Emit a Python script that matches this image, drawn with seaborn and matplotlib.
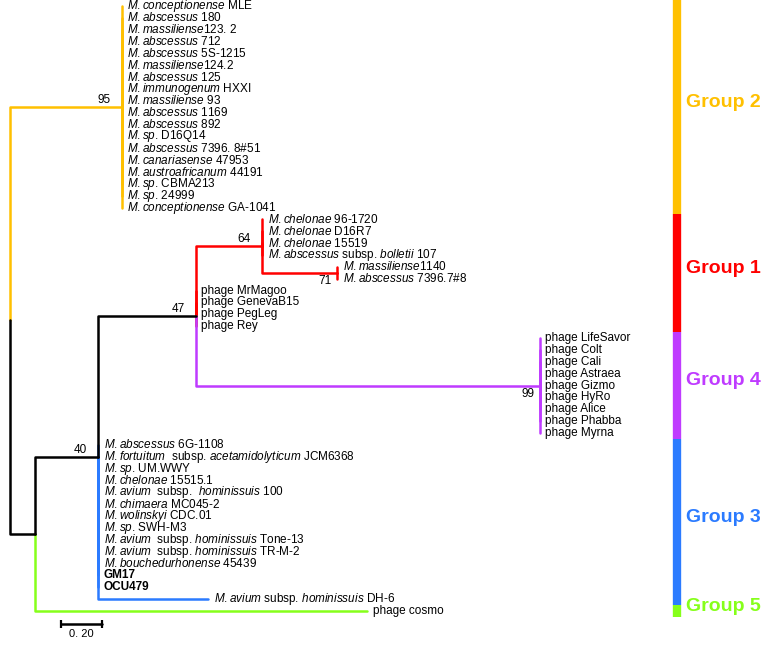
import numpy as np
import pandas as pd
import matplotlib
matplotlib.use("Agg")
import matplotlib.pyplot as plt
import seaborn as sns

# --- tree data ---
# internal nodes (branch length = branch leading to the node, in subst./site)
node_names = ["root", "n95", "nB", "n40", "n47", "n64", "n71", "n99"]
node_parents = [None, "root", "root", "nB", "n40", "n47", "n64", "n47"]
node_lengths = [0.0, 0.546, 0.122, 0.307, 0.478, 0.322, 0.366, 1.678]
node_support = [None, 95, None, 40, 47, 64, 71, 99]
node_support_below = [False, False, False, False, False, False, True, True]
node_colors = ["black", "orange", "black", "black", "black", "red", "red", "purple"]

# leaf labels, _..._ marks italic text
g2_leaves = ["_M. conceptionense_ MLE", "_M. abscessus_ 180", "_M. massiliense_123. 2",
             "_M. abscessus_ 712", "_M. abscessus_ 5S-1215", "_M. massiliense_124.2",
             "_M. abscessus_ 125", "_M. immunogenum_ HXXI", "_M. massiliense_ 93",
             "_M. abscessus_ 1169", "_M. abscessus_ 892", "_M. sp._ D16Q14",
             "_M. abscessus_ 7396. 8#51", "_M. canariasense_ 47953",
             "_M. austroafricanum_ 44191", "_M. sp._ CBMA213", "_M. sp._ 24999",
             "_M. conceptionense_ GA-1041"]
chelonae_leaves = ["_M. chelonae_ 96-1720", "_M. chelonae_ D16R7", "_M. chelonae_ 15519",
                   "_M. abscessus_ subsp. _bolletii_ 107"]
n71_leaves = ["_M. massiliense_1140", "_M. abscessus_ 7396.7#8"]
phage_a_leaves = ["phage MrMagoo", "phage GenevaB15", "phage PegLeg", "phage Rey"]
g4_leaves = ["phage LifeSavor", "phage Colt", "phage Cali", "phage Astraea", "phage Gizmo",
             "phage HyRo", "phage Alice", "phage Phabba", "phage Myrna"]
g3_leaves = ["_M. abscessus_ 6G-1108", "_M. fortuitum_  subsp. _acetamidolyticum_ JCM6368",
             "_M. sp._ UM.WWY", "_M. chelonae_ 15515.1", "_M. avium_  subsp.  _hominissuis_ 100",
             "_M. chimaera_ MC045-2", "_M. wolinskyi_ CDC.01", "_M. sp._ SWH-M3",
             "_M. avium_  subsp. _hominissuis_ Tone-13", "_M. avium_  subsp. _hominissuis_ TR-M-2",
             "_M. bouchedurhonense_ 45439", "GM17", "OCU479"]
dh6_leaves = ["_M. avium_ subsp. _hominissuis_ DH-6"]
cosmo_leaves = ["phage cosmo"]
bold_leaves = ["GM17", "OCU479"]

clade_leaves = [g2_leaves, chelonae_leaves, n71_leaves, phage_a_leaves, g4_leaves,
                g3_leaves, dh6_leaves, cosmo_leaves]
clade_parent = ["n95", "n64", "n71", "n47", "n99", "n40", "n40", "nB"]
clade_length = [0.0, 0.0, 0.0, 0.0, 0.0, 0.0, 0.537, 1.62]
clade_color = ["orange", "red", "red", "red", "purple", "blue", "blue", "green"]

groups = ["Group 2", "Group 1", "Group 4", "Group 3", "Group 5"]
group_sizes = [18, 10, 9, 14, 1]
group_colors = ["orange", "red", "purple", "blue", "green"]

palette = {"orange": "#FFC000", "red": "#FF0000", "purple": "#BF3BFF",
           "blue": "#2B7BFF", "green": "#86FF1A", "black": "#000000"}

# --- layout ---
nodes = pd.DataFrame({"name": node_names, "parent": node_parents, "length": node_lengths,
                      "support": node_support, "below": node_support_below,
                      "color": node_colors}).set_index("name")
leaf_rows = []
for labels, par, bl, col in zip(clade_leaves, clade_parent, clade_length, clade_color):
    for lab in labels:
        leaf_rows.append({"label": lab, "parent": par, "length": bl, "color": col})
leaves = pd.DataFrame(leaf_rows)
leaves["y"] = np.arange(len(leaves), dtype=float)

node_x = {}
def get_x(n):
    if n not in node_x:
        p = nodes.loc[n, "parent"]
        node_x[n] = 0.0 if p is None else get_x(p) + nodes.loc[n, "length"]
    return node_x[n]
for n in node_names:
    get_x(n)
leaves["x"] = [node_x[p] + l for p, l in zip(leaves["parent"], leaves["length"])]

node_y = {}
def get_y(n):
    if n not in node_y:
        ys = list(leaves.loc[leaves["parent"] == n, "y"])
        ys += [get_y(c) for c in nodes.index[nodes["parent"] == n]]
        node_y[n] = (min(ys) + max(ys)) / 2
    return node_y[n]
for n in node_names:
    get_y(n)

segs = []
sid = 0
for n in node_names[1:]:
    p = nodes.loc[n, "parent"]
    for px, py in [(node_x[p], node_y[p]), (node_x[p], node_y[n]), (node_x[n], node_y[n])]:
        segs.append({"seg": sid, "x": px, "y": py, "color": nodes.loc[n, "color"]})
    sid += 1
for _, r in leaves.iterrows():
    p = r["parent"]
    for px, py in [(node_x[p], node_y[p]), (node_x[p], r["y"]), (r["x"], r["y"])]:
        segs.append({"seg": sid, "x": px, "y": py, "color": r["color"]})
    sid += 1
segs = pd.DataFrame(segs)

def to_mathtext(s):
    parts = s.split("_")
    out = ""
    for i, part in enumerate(parts):
        if i % 2 == 1:
            tail = ""
            if part.endswith("."):
                part, tail = part[:-1], "."
            # mathtext already adds a small space after "."
            out += r"$\mathit{" + part.replace(". ", ".").replace(" ", r"\ ") + "}$" + tail
        else:
            out += part
    return out

# --- plot ---
sns.set_theme(style="white")
plt.rcParams["font.family"] = ["Liberation Sans", "DejaVu Sans"]
plt.rcParams["text.color"] = "black"
plt.rcParams["mathtext.fontset"] = "custom"
plt.rcParams["mathtext.rm"] = "Liberation Sans"
plt.rcParams["mathtext.it"] = "Liberation Sans:italic"
plt.rcParams["mathtext.bf"] = "Liberation Sans:bold"

fig = plt.figure(figsize=(7.66, 6.62), dpi=100)
ax = fig.add_axes([0, 0, 1, 1])
px_x, px_y = 205.0, 11.86
ax.set_xlim(-10 / px_x, 756 / px_x)
ax.set_ylim(656 / px_y, -6 / px_y)
ax.axis("off")

sns.lineplot(data=segs, x="x", y="y", units="seg", estimator=None, sort=False,
             hue="color", hue_order=["orange", "blue", "green", "red", "purple", "black"],
             palette=palette, legend=False, lw=1.8, ax=ax)

for _, r in leaves.iterrows():
    ax.annotate(to_mathtext(r["label"]), (r["x"], r["y"]), xytext=(4, 0),
                textcoords="offset points", ha="left", va="center", fontsize=8.5,
                color="black",
                fontweight="bold" if r["label"] in bold_leaves else "normal")

for n, r in nodes.iterrows():
    if r["support"] is None or pd.isna(r["support"]):
        continue
    off = (-3.6, -6) if r["below"] else (-7.8, 5)
    ax.annotate(str(int(r["support"])), (node_x[n], node_y[n]), xytext=off,
                textcoords="offset points", ha="right", va="center", fontsize=8.5,
                color="black")

# scale bar
sb_y = len(leaves) + 0.1
ax.plot([0.25, 0.45], [sb_y, sb_y], color="black", lw=1.8, marker="|", ms=6, mew=1.6)
ax.text(0.35, sb_y + 0.85, "0. 20", ha="center", va="center", fontsize=8, color="black")

# group bar
bar_x = 667 / px_x
edges = np.concatenate([[0], np.cumsum(group_sizes)]) - 0.5
for g, c, lo, hi in zip(groups, group_colors, edges[:-1], edges[1:]):
    ax.vlines(bar_x, lo, hi, colors=palette[c], lw=6, capstyle="butt")
    ax.text(bar_x + 9 / px_x, (lo + hi) / 2 - 0.4, g, color=palette[c], fontsize=14,
            fontweight="bold", ha="left", va="center")

fig.savefig("out.png", dpi=100)
